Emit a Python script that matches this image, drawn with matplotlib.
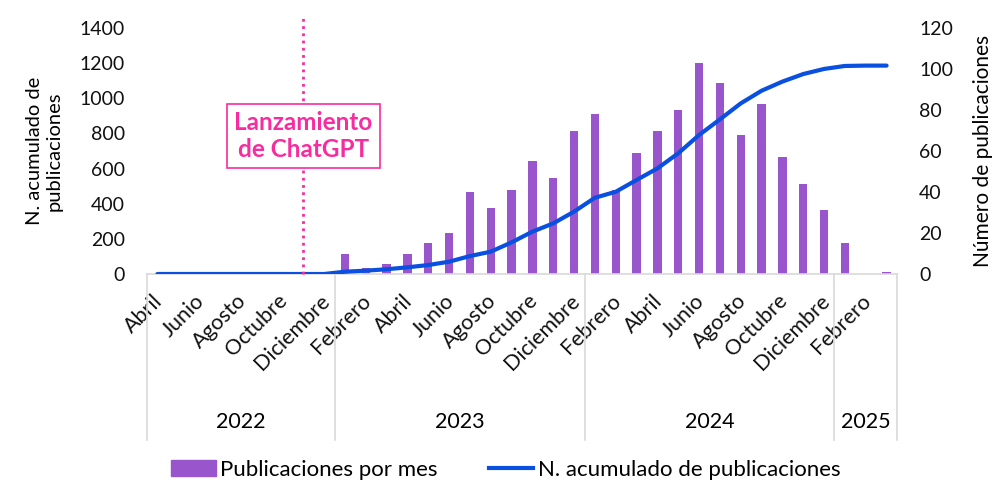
import numpy as np
import matplotlib.pyplot as plt
from matplotlib.lines import Line2D
from matplotlib.patches import Patch
import matplotlib.transforms as mtransforms

plt.rcParams['font.family'] = ['Lato', 'DejaVu Sans']

# meses de abril 2022 a marzo 2025
meses = ['Abril', 'Mayo', 'Junio', 'Julio', 'Agosto', 'Septiembre', 'Octubre', 'Noviembre', 'Diciembre',
         'Enero', 'Febrero', 'Marzo', 'Abril', 'Mayo', 'Junio', 'Julio', 'Agosto', 'Septiembre',
         'Octubre', 'Noviembre', 'Diciembre',
         'Enero', 'Febrero', 'Marzo', 'Abril', 'Mayo', 'Junio', 'Julio', 'Agosto', 'Septiembre',
         'Octubre', 'Noviembre', 'Diciembre',
         'Enero', 'Febrero', 'Marzo']
pub_mes = [0, 0, 0, 0, 0, 0, 0, 0, 0,
           10, 3, 5, 10, 15, 20, 40, 32, 41, 55, 47, 70,
           78, 41, 59, 70, 80, 103, 93, 68, 83, 57, 44, 31,
           15, 0, 1]
acumulado = [0, 0, 0, 0, 0, 0, 0, 0, 0,
             13, 19, 27, 38, 51, 70, 102, 127, 180, 241, 288, 355,
             434, 468, 535, 601, 687, 791, 880, 971, 1043, 1095, 1138, 1167,
             1184, 1186, 1186]
anios = ['2022', '2023', '2024', '2025']
meses_por_anio = [9, 12, 12, 3]
mes_chatgpt = 7  # noviembre 2022

c_bar = '#9955CC'
c_line = '#0A50E0'
c_pink = '#F72C9E'
c_grid = '#D9D9D9'

x = np.arange(len(meses))

fig = plt.figure(figsize=(9.92, 4.84), dpi=100)
ax = fig.add_axes([147 / 992, 1 - 274 / 484, 750 / 992, 246 / 484])
ax2 = ax.twinx()

ax2.bar(x, pub_mes, width=0.4, color=c_bar, zorder=2)
ax.plot(x, acumulado, color=c_line, lw=3, solid_capstyle='round', solid_joinstyle='round', zorder=3)
ax.set_zorder(ax2.get_zorder() + 1)
ax.patch.set_visible(False)

ax.set_xlim(-0.5, len(meses) - 0.5)
ax.set_ylim(0, 1400)
ax2.set_ylim(0, 120)
ax.set_yticks(np.arange(0, 1401, 200))
ax2.set_yticks(np.arange(0, 121, 20))

for a in (ax, ax2):
    for s in a.spines.values():
        s.set_visible(False)
    a.tick_params(length=0, labelsize=14, colors='#111111')
ax.tick_params(axis='y', pad=16)
ax2.tick_params(axis='y', pad=16)
ax.spines['bottom'].set_visible(True)
ax.spines['bottom'].set_color(c_grid)
ax.spines['bottom'].set_linewidth(1.2)

ax.set_xticks(x[::2])
ax.set_xticklabels(meses[::2], rotation=45, ha='right', va='top', rotation_mode='anchor',
                   fontsize=15.5)
ax.tick_params(axis='x', pad=12)
desplaza = mtransforms.ScaledTranslation(-5 / 100, 0, fig.dpi_scale_trans)
for lab in ax.get_xticklabels():
    lab.set_transform(lab.get_transform() + desplaza)

ax.set_ylabel('N. acumulado de\npublicaciones', fontsize=14.5, labelpad=12)
ax2.set_ylabel('Número de publicaciones', fontsize=15, labelpad=14)

# separadores y etiquetas de años
trans = mtransforms.blended_transform_factory(ax.transData, ax.transAxes)
inicio = -0.5
for anio, n in zip(anios, meses_por_anio):
    ax.add_line(Line2D([inicio, inicio], [0, -0.675], transform=trans, color=c_grid,
                       lw=1.2, clip_on=False))
    ax.text(inicio + n / 2, -0.602, anio, transform=trans, ha='center', va='center',
            fontsize=15.5)
    inicio += n
ax.add_line(Line2D([inicio, inicio], [0, -0.675], transform=trans, color=c_grid,
                   lw=1.2, clip_on=False))

# lanzamiento de ChatGPT
ax.add_line(Line2D([mes_chatgpt, mes_chatgpt], [0.0, 1.055], transform=trans, color=c_pink,
                   lw=2, ls=(0, (1, 1.6)), clip_on=False, zorder=4))
ax.text(mes_chatgpt, 0.561, 'Lanzamiento\nde ChatGPT', transform=trans, ha='center',
        va='center', fontsize=17.5, fontweight='bold', color=c_pink, zorder=5,
        linespacing=1.2,
        bbox=dict(boxstyle='square,pad=0.3', fc='white', ec=c_pink, lw=1.2))

handles = [Patch(color=c_bar, label='Publicaciones por mes'),
           Line2D([], [], color=c_line, lw=3, label='N. acumulado de publicaciones')]
fig.legend(handles=handles, loc='center', bbox_to_anchor=(0.51, 1 - 470 / 484), ncol=2,
           frameon=False, fontsize=16, handlelength=2.0, handletextpad=0.2,
           columnspacing=2.3)

fig.savefig('out.png', dpi=100)
